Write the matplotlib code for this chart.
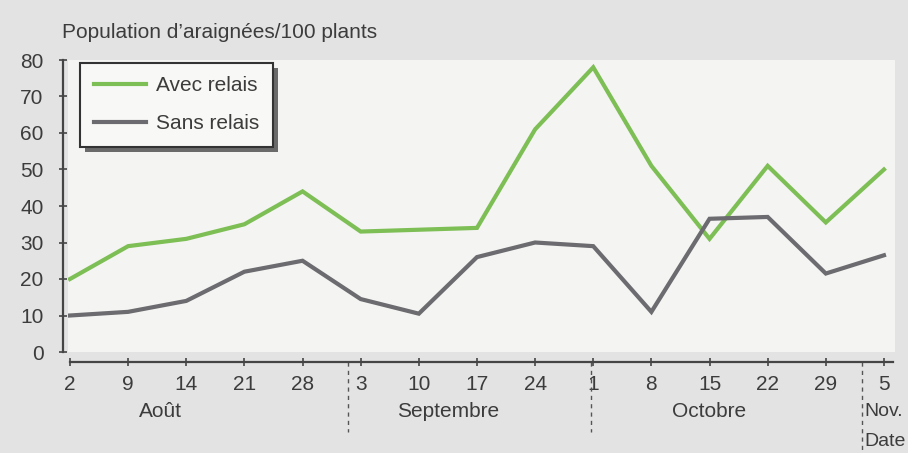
import matplotlib
matplotlib.use("Agg")
import matplotlib.pyplot as plt
import matplotlib.transforms as mtransforms

# data
dates = ["2", "9", "14", "21", "28", "3", "10", "17", "24", "1", "8", "15", "22", "29", "5"]
avec_relais = [20, 29, 31, 35, 44, 33, 33.5, 34, 61, 78, 51, 31, 51, 35.5, 50]
sans_relais = [10, 11, 14, 22, 25, 14.5, 10.5, 26, 30, 29, 11, 36.5, 37, 21.5, 26.5]
months = ["Août", "Septembre", "Octobre"]
month_pos = [1.55, 6.5, 11.0]
separators = [4.78, 8.96, 13.62]

GREEN = "#7dbe55"
GREY = "#6b6b70"
TEXT = "#3c3c3c"
AXIS = "#454545"
FS = 15

plt.rcParams["font.family"] = ["Liberation Sans", "DejaVu Sans"]

fig = plt.figure(figsize=(9.08, 4.53), dpi=100)
fig.patch.set_facecolor("#e3e3e3")
ax = fig.add_axes([68 / 908, 101 / 453, 827 / 908, 292 / 453])
ax.set_facecolor("#f4f4f2")

x = list(range(len(dates)))
ax.plot(x, avec_relais, color=GREEN, lw=3, label="Avec relais", solid_joinstyle="miter")
ax.plot(x, sans_relais, color=GREY, lw=3, label="Sans relais", solid_joinstyle="miter")

ax.set_xlim(-0.034, 14.19)
ax.set_ylim(0, 80)

for s in ["top", "right"]:
    ax.spines[s].set_visible(False)
ax.spines["left"].set_position(("outward", 3.6))
ax.spines["bottom"].set_position(("outward", 7.2))
ax.spines["left"].set_bounds(0, 80)
ax.spines["bottom"].set_bounds(0, 14.15)
for s in ["left", "bottom"]:
    ax.spines[s].set_color(AXIS)
    ax.spines[s].set_linewidth(1.6)

ax.set_yticks(range(0, 81, 10))
ax.set_xticks(x)
ax.set_xticklabels(dates)
ax.tick_params(axis="y", direction="inout", length=6, width=1.2, color=AXIS,
               labelsize=FS, labelcolor=TEXT, pad=11)
ax.tick_params(axis="x", direction="inout", length=6, width=1.2, color=AXIS,
               labelsize=FS, labelcolor=TEXT, pad=6)
ax.get_xticklines()[2 * 13].set_color("#d04050")

trans = mtransforms.blended_transform_factory(ax.transData, ax.transAxes)
for name, pos in zip(months, month_pos):
    ax.text(pos, -0.203, name, transform=trans, ha="center", va="center",
            fontsize=FS, color=TEXT)
ax.text(13.66, -0.203, "Nov.", transform=trans, ha="left", va="center",
        fontsize=14, color=TEXT)
ax.text(13.66, -0.305, "Date", transform=trans, ha="left", va="center",
        fontsize=14, color=TEXT)

ends = [-0.274, -0.274, -0.336]
for sx, e in zip(separators, ends):
    ax.plot([sx, sx], [-0.034, e], transform=trans, color="#555555", lw=1,
            ls=(0, (3, 3)), clip_on=False)

fig.text(62 / 908, 1 - 33 / 453, "Population d\u2019araignées/100 plants",
         ha="left", va="center", fontsize=FS, color=TEXT)

leg = ax.legend(loc="upper left", bbox_to_anchor=(0.0145, 0.99), borderaxespad=0,
                fontsize=FS, frameon=True, fancybox=False,
                shadow={"ox": 3.5, "oy": -3.5, "facecolor": "#6a6a6a", "edgecolor": "none", "alpha": 1},
                handlelength=2.5, handletextpad=0.5, labelspacing=0.9, borderpad=0.65)
leg.get_frame().set_edgecolor("#333333")
leg.get_frame().set_linewidth(1.5)
leg.get_frame().set_facecolor("#f8f8f6")
for t in leg.get_texts():
    t.set_color(TEXT)

fig.savefig("out.png", dpi=100, facecolor=fig.get_facecolor())
